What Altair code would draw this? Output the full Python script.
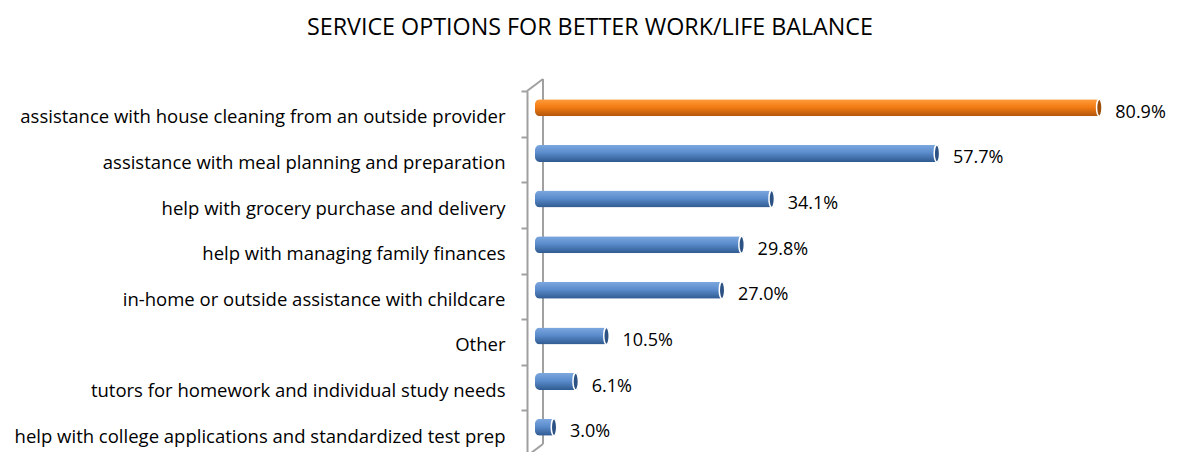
import altair as alt
import pandas as pd

categories = [
    "assistance with house cleaning from an outside provider",
    "assistance with meal planning and preparation",
    "help with grocery purchase and delivery",
    "help with managing family finances",
    "in-home or outside assistance with childcare",
    "Other",
    "tutors for homework and individual study needs",
    "help with college applications and standardized test prep",
]
values = [80.9, 57.7, 34.1, 29.8, 27.0, 10.5, 6.1, 3.0]
highlight = ["yes", "no", "no", "no", "no", "no", "no", "no"]

df = pd.DataFrame({"category": categories, "value": values, "highlight": highlight})
deco = pd.DataFrame({"k": [0]})

FONT = "Open Sans"
GRAY = "#A0A0A0"

blue_grad = alt.Gradient(
    gradient="linear",
    stops=[
        alt.GradientStop(color="#7DA8E0", offset=0),
        alt.GradientStop(color="#5B8CCC", offset=0.45),
        alt.GradientStop(color="#2F5A90", offset=1),
    ],
    x1=0, x2=0, y1=0, y2=1,
)
orange_grad = alt.Gradient(
    gradient="linear",
    stops=[
        alt.GradientStop(color="#FF9C3C", offset=0),
        alt.GradientStop(color="#F47C14", offset=0.45),
        alt.GradientStop(color="#B0560A", offset=1),
    ],
    x1=0, x2=0, y1=0, y2=1,
)

ellipse = "M 0 -1 A 0.32 1 0 0 1 0 1 A 0.32 1 0 0 1 0 -1 Z"

y_enc = alt.Y(
    "category:N",
    sort=categories,
    scale=alt.Scale(range=[0, 365], paddingInner=0, paddingOuter=0),
    axis=alt.Axis(
        title=None,
        offset=8,
        domainColor=GRAY,
        domainWidth=2,
        tickColor=GRAY,
        tickWidth=2,
        tickSize=6,
        tickBand="extent",
        labelFont=FONT,
        labelFontSize=18.5,
        labelColor="#000000",
        labelPadding=16,
        labelOffset=3,
        labelLimit=0,
        grid=False,
    ),
)
x_enc = alt.X("value:Q", scale=alt.Scale(domain=[0, 90]), axis=None)

base = alt.Chart(df).encode(x=x_enc, y=y_enc)

back_line = alt.Chart(deco).mark_rule(color=GRAY, strokeWidth=2).encode(
    x=alt.value(8), y=alt.value(-12), y2=alt.value(353)
)
top_diag = alt.Chart(deco).mark_rule(color=GRAY, strokeWidth=2).encode(
    x=alt.value(-8), x2=alt.value(8), y=alt.value(0), y2=alt.value(-12)
)
bot_diag = alt.Chart(deco).mark_rule(color=GRAY, strokeWidth=2).encode(
    x=alt.value(-8), x2=alt.value(8), y=alt.value(365), y2=alt.value(353)
)

blue_bars = base.transform_filter("datum.highlight == 'no'").mark_bar(
    size=17, yOffset=-6, color=blue_grad, cornerRadiusTopLeft=5, cornerRadiusBottomLeft=5
)
orange_bars = base.transform_filter("datum.highlight == 'yes'").mark_bar(
    size=17, yOffset=-6, color=orange_grad, cornerRadiusTopLeft=5, cornerRadiusBottomLeft=5
)
caps = base.mark_point(
    shape=ellipse, size=289, filled=True, opacity=1, stroke="white",
    strokeWidth=1.5, yOffset=-6, xOffset=-2,
).encode(
    fill=alt.Fill("highlight:N", scale=alt.Scale(domain=["no", "yes"], range=["#2C5283", "#9E4E08"]), legend=None)
)
labels = base.transform_calculate(
    label="format(datum.value, '.1f') + '%'"
).mark_text(
    align="left", baseline="middle", dx=14, yOffset=-1, font=FONT, fontSize=18, color="#000000"
).encode(text="label:N")

chart = alt.layer(back_line, top_diag, bot_diag, blue_bars, orange_bars, caps, labels).properties(
    width=630,
    height=365,
    padding={"left": 527, "top": 83, "right": 10, "bottom": 0},
    autosize=alt.AutoSizeParams(type="none"),
    title=alt.TitleParams(
        "SERVICE OPTIONS FOR BETTER WORK/LIFE BALANCE",
        font=FONT, fontSize=23.3, fontWeight="normal", color="#000000",
        anchor="middle", frame="bounds", offset=38,
    ),
).configure_view(stroke=None)

chart.save("out.html", embed_options={"renderer": "svg", "actions": False})
